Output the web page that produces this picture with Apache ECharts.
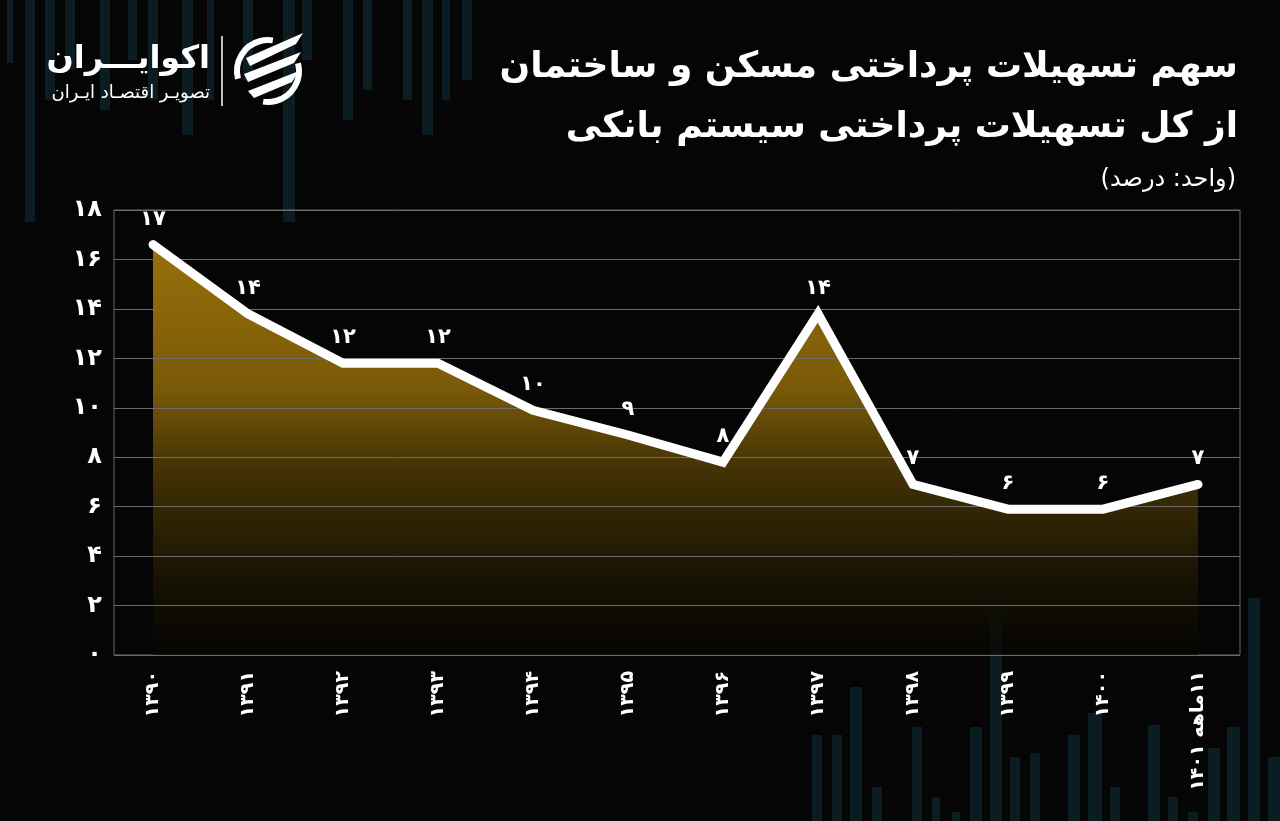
<!DOCTYPE html>
<html>
<head>
<meta charset="utf-8">
<script src="https://cdn.jsdelivr.net/npm/echarts@6/dist/echarts.min.js"></script>
<style>
html,body{margin:0;padding:0;background:#050505;}
#c{width:1280px;height:821px;}
</style>
</head>
<body>
<div id="c" dir="rtl"></div>
<script>
// ---- data ----
const categories = ['۱۳۹۰','۱۳۹۱','۱۳۹۲','۱۳۹۳','۱۳۹۴','۱۳۹۵','۱۳۹۶','۱۳۹۷','۱۳۹۸','۱۳۹۹','۱۴۰۰','۱۱ماهه ۱۴۰۱'];
const shareValues = [16.6, 13.8, 11.8, 11.8, 9.9, 8.9, 7.8, 13.8, 6.9, 5.9, 5.9, 6.9];
const yTicks = [0, 2, 4, 6, 8, 10, 12, 14, 16, 18];
const titleLine1 = 'سهم تسهیلات پرداختی مسکن و ساختمان';
const titleLine2 = 'از کل تسهیلات پرداختی سیستم بانکی';
const unitText = '(واحد: درصد)';
const logoMain = 'اکوایـــران';
const logoSub = 'تصویـر اقتصـاد ایـران';

const FONT = '"DejaVu Sans", "Noto Sans", sans-serif';
const fa = s => String(s).replace(/\d/g, d => '۰۱۲۳۴۵۶۷۸۹'[d]);

// decorative background stripes (not data)
const topBars = [[7,6,63],[25,10,222],[45,10,100],[65,10,70],[100,10,110],[128,9,60],[148,10,100],[182,11,135],[207,7,100],[243,10,80],[283,12,222],[302,10,60],[343,10,120],[363,9,90],[403,9,100],[422,11,135],[442,8,100],[462,10,80]];
const bottomBars = [[812,10,735],[832,10,735],[850,12,687],[872,10,787],[912,10,727],[932,8,797],[952,8,812],[970,12,727],[990,12,598],[1010,10,757],[1030,10,753],[1068,12,735],[1088,14,713],[1110,10,787],[1148,12,725],[1168,10,797],[1188,10,812],[1208,12,748],[1227,13,727],[1248,12,598],[1268,12,757]];

const graphics = [];
topBars.forEach(b => graphics.push({type:'rect', z:-5, shape:{x:b[0], y:0, width:b[1], height:b[2]}, style:{fill:'#0b1c23'}}));
bottomBars.forEach(b => graphics.push({type:'rect', z:-5, shape:{x:b[0], y:b[2], width:b[1], height:821-b[2]}, style:{fill:'#0b1c23'}}));

graphics.push(
  {type:'text', z:10, x:1238, y:68, style:{text:titleLine1, font:'bold 36px '+FONT, fill:'#ffffff', align:'right', verticalAlign:'middle'}},
  {type:'text', z:10, x:1238, y:128, style:{text:titleLine2, font:'bold 36px '+FONT, fill:'#ffffff', align:'right', verticalAlign:'middle'}},
  {type:'text', z:10, x:1236, y:180, style:{text:unitText, font:'24px '+FONT, fill:'#ffffff', align:'right', verticalAlign:'middle'}},
  {type:'text', z:10, x:210, y:60, style:{text:logoMain, font:'bold 32px '+FONT, fill:'#ffffff', align:'right', verticalAlign:'middle'}},
  {type:'text', z:10, x:210, y:93, style:{text:logoSub, font:'18px '+FONT, fill:'#ffffff', align:'right', verticalAlign:'middle'}},
  {type:'line', z:10, shape:{x1:222, y1:36, x2:222, y2:106}, style:{stroke:'#ffffff', lineWidth:1.5}},
  // logo icon
  {type:'arc', z:10, shape:{cx:268, cy:71, r:31, startAngle:Math.PI*0.92, endAngle:Math.PI*1.55}, style:{stroke:'#ffffff', lineWidth:6, fill:null}},
  {type:'arc', z:10, shape:{cx:268, cy:71, r:31, startAngle:Math.PI*1.92, endAngle:Math.PI*0.55}, style:{stroke:'#ffffff', lineWidth:6, fill:null}},
  {type:'polygon', z:10, shape:{points:[[246,58],[303,33],[296,44],[250,66]]}, style:{fill:'#ffffff'}},
  {type:'polygon', z:10, shape:{points:[[244,74],[301,52],[294,63],[248,82]]}, style:{fill:'#ffffff'}},
  {type:'polygon', z:10, shape:{points:[[248,91],[299,71],[292,82],[254,98]]}, style:{fill:'#ffffff'}}
);

const chart = echarts.init(document.getElementById('c'), null, {renderer:'canvas'});
chart.setOption({
  backgroundColor: '#050505',
  animation: false,
  graphic: graphics,
  grid: [
    {left:114, right:40, top:210, bottom:166, show:true, borderColor:'#6b6b6b', borderWidth:1, backgroundColor:'transparent'},
    {left:153, right:82, top:210, bottom:166}
  ],
  xAxis: [
    {gridIndex:0, type:'value', min:0, max:1, show:false},
    {gridIndex:1, type:'category', data:categories, boundaryGap:false,
     axisLine:{show:false}, axisTick:{show:false},
     axisLabel:{color:'#ffffff', fontFamily:FONT, fontSize:19, fontWeight:'bold', rotate:90, margin:16, interval:0}}
  ],
  yAxis: [
    {gridIndex:0, type:'value', min:yTicks[0], max:yTicks[yTicks.length-1], interval:2, z:2,
     axisLine:{show:false}, axisTick:{show:false},
     splitLine:{lineStyle:{color:'#6b6b6b', width:1}},
     axisLabel:{color:'#ffffff', fontFamily:FONT, fontSize:24, fontWeight:'bold', margin:12, formatter:v => fa(v)}},
    {gridIndex:1, type:'value', min:yTicks[0], max:yTicks[yTicks.length-1], interval:2, show:false, splitLine:{show:false}}
  ],
  series: [{
    type:'line', xAxisIndex:1, yAxisIndex:1, data:shareValues,
    symbol:'none', z:1, silent:true,
    lineStyle:{width:0, opacity:0},
    areaStyle:{opacity:1, color:new echarts.graphic.LinearGradient(0,0,0,1,[
      {offset:0, color:'#98700a'},
      {offset:0.35, color:'#7a5a08'},
      {offset:0.55, color:'#433206'},
      {offset:0.8, color:'#1a1403'},
      {offset:1, color:'rgba(6,5,1,0.7)'}
    ])}
  }, {
    type:'line', xAxisIndex:1, yAxisIndex:1, data:shareValues,
    symbol:'circle', symbolSize:2, showSymbol:true, z:3,
    itemStyle:{color:'#ffffff'},
    lineStyle:{color:'#ffffff', width:9, cap:'round', join:'miter'},
    label:{show:true, position:'top', distance:14, color:'#ffffff', fontFamily:FONT, fontSize:21, fontWeight:'bold',
      formatter:p => fa(Math.round(p.value))}
  }]
});
</script>
</body>
</html>
